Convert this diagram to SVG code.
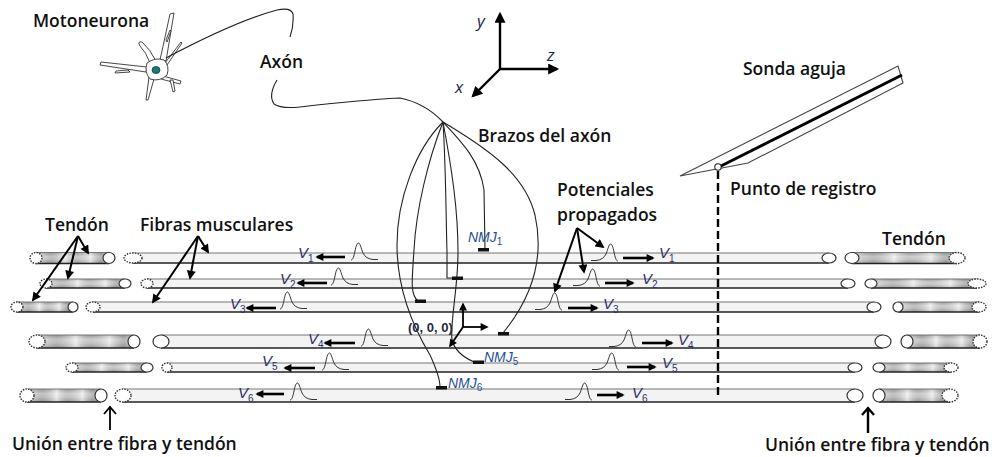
<svg xmlns="http://www.w3.org/2000/svg" xmlns:xlink="http://www.w3.org/1999/xlink" width="994" height="457" viewBox="0 0 994 457">
  <style>
    .lbl { font-family: "Open Sans", "Liberation Sans", sans-serif; font-weight: 600; font-size: 17.5px; fill: #111; }
    .ax { font-family: "Open Sans", "Liberation Sans", sans-serif; font-style: italic; font-size: 17px; fill: #1c2448; }
    .v { font-family: "Liberation Sans", Arial, sans-serif; font-style: italic; font-size: 15px; fill: #2f2f6a; }
    .sub { font-size: 10px; font-style: normal; }
    .nmj { font-family: "Liberation Sans", Arial, sans-serif; font-style: italic; font-size: 14px; fill: #1f4e9a; }
    .org { font-family: "Liberation Sans", Arial, sans-serif; font-weight: bold; font-size: 13px; fill: #1e2a44; }
    .branch { fill: none; stroke: #222; stroke-width: 1.1; }
    .junction { fill: #111; }
    .edgeT { stroke: #777; stroke-width: 1.2; }
    .edgeB { stroke: #222; stroke-width: 1.3; }
    .endS { fill: #fff; stroke: #333; stroke-width: 1.2; }
    .endD { fill: #fff; stroke: #333; stroke-width: 1.4; stroke-dasharray: 1.5 1.2; }
    .pulse { fill: none; stroke: #333; stroke-width: 1; }
    .vel { stroke: #000; stroke-width: 2.6; marker-end: url(#ah); }
    .ptr { stroke: #000; stroke-width: 2; marker-end: url(#ah2); }
    .axis { stroke: #000; stroke-width: 2.4; marker-end: url(#ah3); }
    .dend { fill: #fff; stroke: #333; stroke-width: 0.9; stroke-linejoin: round; }
  </style>
  <defs>
    <marker id="ah" viewBox="0 0 10 10" refX="8" refY="5" markerWidth="9" markerHeight="8" markerUnits="userSpaceOnUse" orient="auto">
      <path d="M0,0 L10,5 L0,10 Z" fill="#000"/>
    </marker>
    <marker id="ah2" viewBox="0 0 10 10" refX="8" refY="5" markerWidth="10" markerHeight="9" markerUnits="userSpaceOnUse" orient="auto">
      <path d="M0,0 L10,5 L0,10 Z" fill="#000"/>
    </marker>
    <marker id="ah3" viewBox="0 0 10 10" refX="8" refY="5" markerWidth="12" markerHeight="11" markerUnits="userSpaceOnUse" orient="auto">
      <path d="M0,0 L10,5 L0,10 Z" fill="#000"/>
    </marker>
    <linearGradient id="tendV" x1="0" y1="0" x2="0" y2="1">
      <stop offset="0" stop-color="#999"/>
      <stop offset="0.35" stop-color="#dcdcdc"/>
      <stop offset="0.6" stop-color="#d2d2d2"/>
      <stop offset="1" stop-color="#969696"/>
    </linearGradient>
    <linearGradient id="tendH" x1="0" y1="0" x2="1" y2="0">
      <stop offset="0" stop-color="#ffffff" stop-opacity="0.5"/>
      <stop offset="0.2" stop-color="#888" stop-opacity="0.3"/>
      <stop offset="0.4" stop-color="#ffffff" stop-opacity="0.6"/>
      <stop offset="0.55" stop-color="#999" stop-opacity="0.25"/>
      <stop offset="0.75" stop-color="#ffffff" stop-opacity="0.55"/>
      <stop offset="0.9" stop-color="#777" stop-opacity="0.35"/>
      <stop offset="1" stop-color="#ffffff" stop-opacity="0.4"/>
    </linearGradient>
    <!-- action potential moving left: steep front on the left, slow tail on the right -->
    <path id="ap" class="pulse" d="M0,0 C2,0 3,-4 4,-9 C5,-14 6,-17 7.5,-17 C9,-17 10,-12 12,-7 C14,-3 17,-1 22,-0.5 L27,-0.5"/>
  </defs>

  <rect width="994" height="457" fill="#fff"/>

  <!-- muscle fibres with their tendons -->
  <g id="fibre1">
    <rect x="36" y="252.5" width="73" height="11" fill="url(#tendV)"/><rect x="36" y="252.5" width="73" height="11" fill="url(#tendH)"/>
    <line class="edgeT" x1="36" y1="252.5" x2="109" y2="252.5"/><line class="edgeB" x1="36" y1="263.5" x2="109" y2="263.5"/>
    <ellipse class="endD" cx="36" cy="258" rx="6" ry="5.5"/><ellipse class="endS" cx="109" cy="258" rx="6" ry="5.5"/>
    <rect x="133" y="253" width="696" height="10" fill="#f3f3f3"/>
    <line class="edgeT" x1="133" y1="253" x2="829" y2="253"/><line class="edgeB" x1="133" y1="263" x2="829" y2="263"/>
    <ellipse class="endD" cx="133" cy="258" rx="9" ry="5"/><ellipse class="endS" cx="829" cy="258" rx="7" ry="5"/>
    <rect x="852" y="252.5" width="105" height="11" fill="url(#tendV)"/><rect x="852" y="252.5" width="105" height="11" fill="url(#tendH)"/>
    <line class="edgeT" x1="852" y1="252.5" x2="957" y2="252.5"/><line class="edgeB" x1="852" y1="263.5" x2="957" y2="263.5"/>
    <ellipse class="endS" cx="852" cy="258" rx="7" ry="5.5"/><ellipse class="endD" cx="957" cy="258" rx="8" ry="5.5"/>
  </g>
  <g id="fibre2">
    <rect x="46" y="279" width="79" height="9" fill="url(#tendV)"/><rect x="46" y="279" width="79" height="9" fill="url(#tendH)"/>
    <line class="edgeT" x1="46" y1="279" x2="125" y2="279"/><line class="edgeB" x1="46" y1="288" x2="125" y2="288"/>
    <ellipse class="endD" cx="46" cy="283.5" rx="6" ry="4.5"/><ellipse class="endS" cx="125" cy="283.5" rx="6" ry="4.5"/>
    <rect x="147" y="279" width="701" height="9" fill="#f3f3f3"/>
    <line class="edgeT" x1="147" y1="279" x2="848" y2="279"/><line class="edgeB" x1="147" y1="288" x2="848" y2="288"/>
    <ellipse class="endD" cx="147" cy="283.5" rx="6" ry="4.5"/><ellipse class="endS" cx="848" cy="283.5" rx="7" ry="4.5"/>
    <rect x="871" y="279" width="106" height="9" fill="url(#tendV)"/><rect x="871" y="279" width="106" height="9" fill="url(#tendH)"/>
    <line class="edgeT" x1="871" y1="279" x2="977" y2="279"/><line class="edgeB" x1="871" y1="288" x2="977" y2="288"/>
    <ellipse class="endS" cx="871" cy="283.5" rx="6" ry="4.5"/><ellipse class="endD" cx="977" cy="283.5" rx="9" ry="4.5"/>
  </g>
  <g id="fibre3">
    <rect x="17" y="302" width="56" height="10" fill="url(#tendV)"/><rect x="17" y="302" width="56" height="10" fill="url(#tendH)"/>
    <line class="edgeT" x1="17" y1="302" x2="73" y2="302"/><line class="edgeB" x1="17" y1="312" x2="73" y2="312"/>
    <ellipse class="endD" cx="17" cy="307" rx="6" ry="5"/><ellipse class="endS" cx="73" cy="307" rx="5" ry="5"/>
    <rect x="93" y="302" width="781" height="10" fill="#f3f3f3"/>
    <line class="edgeT" x1="93" y1="302" x2="874" y2="302"/><line class="edgeB" x1="93" y1="312" x2="874" y2="312"/>
    <ellipse class="endD" cx="93" cy="307" rx="7" ry="5"/><ellipse class="endS" cx="874" cy="307" rx="7" ry="5"/>
    <rect x="898" y="302" width="81" height="10" fill="url(#tendV)"/><rect x="898" y="302" width="81" height="10" fill="url(#tendH)"/>
    <line class="edgeT" x1="898" y1="302" x2="979" y2="302"/><line class="edgeB" x1="898" y1="312" x2="979" y2="312"/>
    <ellipse class="endS" cx="898" cy="307" rx="5" ry="5"/><ellipse class="endD" cx="979" cy="307" rx="7" ry="5"/>
  </g>
  <g id="fibre4">
    <rect x="37" y="335" width="97" height="13" fill="url(#tendV)"/><rect x="37" y="335" width="97" height="13" fill="url(#tendH)"/>
    <line class="edgeT" x1="37" y1="335" x2="134" y2="335"/><line class="edgeB" x1="37" y1="348" x2="134" y2="348"/>
    <ellipse class="endD" cx="37" cy="341.5" rx="8" ry="6.5"/><ellipse class="endS" cx="134" cy="341.5" rx="6" ry="6.5"/>
    <rect x="161" y="335" width="722" height="13" fill="#f3f3f3"/>
    <line class="edgeT" x1="161" y1="335" x2="883" y2="335"/><line class="edgeB" x1="161" y1="348" x2="883" y2="348"/>
    <ellipse class="endS" cx="161" cy="341.5" rx="8" ry="6.5"/><ellipse class="endS" cx="883" cy="341.5" rx="8" ry="6.5"/>
    <rect x="907" y="335" width="73" height="13" fill="url(#tendV)"/><rect x="907" y="335" width="73" height="13" fill="url(#tendH)"/>
    <line class="edgeT" x1="907" y1="335" x2="980" y2="335"/><line class="edgeB" x1="907" y1="348" x2="980" y2="348"/>
    <ellipse class="endS" cx="907" cy="341.5" rx="6" ry="6.5"/><ellipse class="endD" cx="980" cy="341.5" rx="7" ry="6.5"/>
  </g>
  <g id="fibre5">
    <rect x="72" y="363" width="75" height="9" fill="url(#tendV)"/><rect x="72" y="363" width="75" height="9" fill="url(#tendH)"/>
    <line class="edgeT" x1="72" y1="363" x2="147" y2="363"/><line class="edgeB" x1="72" y1="372" x2="147" y2="372"/>
    <ellipse class="endD" cx="72" cy="367.5" rx="6" ry="4.5"/><ellipse class="endS" cx="147" cy="367.5" rx="6" ry="4.5"/>
    <rect x="167" y="363" width="688" height="9" fill="#f3f3f3"/>
    <line class="edgeT" x1="167" y1="363" x2="855" y2="363"/><line class="edgeB" x1="167" y1="372" x2="855" y2="372"/>
    <ellipse class="endD" cx="167" cy="367.5" rx="5" ry="4.5"/><ellipse class="endS" cx="855" cy="367.5" rx="7" ry="4.5"/>
    <rect x="879" y="363" width="72" height="9" fill="url(#tendV)"/><rect x="879" y="363" width="72" height="9" fill="url(#tendH)"/>
    <line class="edgeT" x1="879" y1="363" x2="951" y2="363"/><line class="edgeB" x1="879" y1="372" x2="951" y2="372"/>
    <ellipse class="endS" cx="879" cy="367.5" rx="6" ry="4.5"/><ellipse class="endD" cx="951" cy="367.5" rx="7" ry="4.5"/>
  </g>
  <g id="fibre6">
    <rect x="27" y="389" width="74" height="13" fill="url(#tendV)"/><rect x="27" y="389" width="74" height="13" fill="url(#tendH)"/>
    <line class="edgeT" x1="27" y1="389" x2="101" y2="389"/><line class="edgeB" x1="27" y1="402" x2="101" y2="402"/>
    <ellipse class="endD" cx="27" cy="395.5" rx="7" ry="6.5"/><ellipse class="endS" cx="101" cy="395.5" rx="6" ry="6.5"/>
    <rect x="123" y="389" width="732" height="13" fill="#f3f3f3"/>
    <line class="edgeT" x1="123" y1="389" x2="855" y2="389"/><line class="edgeB" x1="123" y1="402" x2="855" y2="402"/>
    <ellipse class="endD" cx="123" cy="395.5" rx="8" ry="6.5"/><ellipse class="endS" cx="855" cy="395.5" rx="8" ry="6.5"/>
    <rect x="879" y="389" width="71" height="13" fill="url(#tendV)"/><rect x="879" y="389" width="71" height="13" fill="url(#tendH)"/>
    <line class="edgeT" x1="879" y1="389" x2="950" y2="389"/><line class="edgeB" x1="879" y1="402" x2="950" y2="402"/>
    <ellipse class="endS" cx="879" cy="395.5" rx="6" ry="6.5"/><ellipse class="endD" cx="950" cy="395.5" rx="8" ry="6.5"/>
  </g>

  <!-- motoneuron cell body with dendrites -->
  <g id="motoneuron">
    <path class="dend" d="M160,60 L170,14 L174,13 L166,61 Z"/>
    <path class="dend" d="M166,40 L170,30 L171,31 L167,42 Z"/>
    <path class="dend" d="M150,63 Q146,52 140,46 Q137,41 142,42 Q150,49 156,61 Z"/>
    <path class="dend" d="M165,63 L181,42 L182,43 L167,65 Z"/>
    <path class="dend" d="M147,67 L101,62 L100,65 L146,72 Z"/>
    <path class="dend" d="M128,70 L116,71 L115,73 L130,72 Z"/>
    <path class="dend" d="M149,77 L146,100 L148,100 L154,79 Z"/>
    <path class="dend" d="M163,76 L181,81 L180,84 L161,79 Z"/>
    <path class="dend" d="M170,80 L173,92 L175,91 L173,80 Z"/>
    <path class="dend" d="M147,63 Q155,57 164,60 Q170,66 167,75 Q160,82 150,79 Q144,72 147,63 Z"/>
    <ellipse cx="156" cy="70" rx="4" ry="3.5" fill="#137d74" stroke="#0c3c38" stroke-width="0.8"/>
  </g>

  <!-- axon and its branches to the neuromuscular junctions -->
  <g id="axon">
    <path class="branch" d="M166,58 C200,40 240,20 277,10 Q291,7 293,14 Q294,25 290,37"/>
    <path class="branch" d="M277,80 Q268,95 274,104 Q281,109 300,107 Q360,100 400,98 Q425,103 443,122"/>
    <path class="branch" d="M443,122 C415,150 397,200 397,245 C397,290 415,330 430,355 C436,368 440,380 440,387"/>
    <path class="branch" d="M443,122 C428,160 416,210 414,250 C412,280 410,295 418,301"/>
    <path class="branch" d="M443,122 C446,170 446,220 447,252 L447,278 L453,278"/>
    <path class="branch" d="M443,122 C452,170 458,210 458,252 C458,290 450,320 452,340 C455,352 465,358 474,362"/>
    <path class="branch" d="M443,122 C460,140 480,160 484,190 L485,249"/>
    <path class="branch" d="M443,122 C490,150 525,175 535,215 C545,260 530,300 503,333"/>
  </g>
  <g id="junctions">
    <rect class="junction" x="478" y="248" width="11" height="3.5"/>
    <rect class="junction" x="452" y="276.5" width="11" height="3.5"/>
    <rect class="junction" x="415" y="299.5" width="11" height="3.5"/>
    <rect class="junction" x="498" y="332" width="11" height="3.5"/>
    <rect class="junction" x="473" y="360.5" width="11" height="3.5"/>
    <rect class="junction" x="436" y="386" width="11" height="3.5"/>
    <text class="nmj" x="468" y="242">NMJ<tspan class="sub" dy="3">1</tspan></text>
    <text class="nmj" x="484" y="362" font-size="13">NMJ<tspan class="sub" dy="3" font-size="8">5</tspan></text>
    <text class="nmj" x="448" y="388" font-size="13">NMJ<tspan class="sub" dy="3" font-size="8">6</tspan></text>
  </g>

  <!-- propagating action potentials and conduction velocities -->
  <g id="potentials">
    <use xlink:href="#ap" transform="translate(351,260)"/>
    <use xlink:href="#ap" transform="translate(331,285)"/>
    <use xlink:href="#ap" transform="translate(280,309)"/>
    <use xlink:href="#ap" transform="translate(361,346)"/>
    <use xlink:href="#ap" transform="translate(322,370)"/>
    <use xlink:href="#ap" transform="translate(290,400)"/>
    <use xlink:href="#ap" transform="translate(618,261) scale(-1,1)"/>
    <use xlink:href="#ap" transform="translate(600,286) scale(-1,1)"/>
    <use xlink:href="#ap" transform="translate(562,310) scale(-1,1)"/>
    <use xlink:href="#ap" transform="translate(636,347) scale(-1,1)"/>
    <use xlink:href="#ap" transform="translate(619,370) scale(-1,1)"/>
    <use xlink:href="#ap" transform="translate(592,400) scale(-1,1)"/>
  </g>
  <g id="connectors">
    <line class="vel" x1="345" y1="257" x2="317" y2="257"/>
    <line class="vel" x1="327" y1="283" x2="298" y2="283"/>
    <line class="vel" x1="276" y1="308" x2="247" y2="308"/>
    <line class="vel" x1="355" y1="343" x2="325" y2="343"/>
    <line class="vel" x1="315" y1="368" x2="285" y2="368"/>
    <line class="vel" x1="284" y1="394" x2="257" y2="394"/>
    <line class="vel" x1="623" y1="258" x2="653" y2="258"/>
    <line class="vel" x1="605" y1="283" x2="633" y2="283"/>
    <line class="vel" x1="568" y1="308" x2="597" y2="308"/>
    <line class="vel" x1="642" y1="343" x2="672" y2="343"/>
    <line class="vel" x1="627" y1="367" x2="655" y2="367"/>
    <line class="vel" x1="597" y1="395" x2="623" y2="395"/>
    <!-- label pointers -->
    <line class="ptr" x1="78" y1="236" x2="88" y2="253"/>
    <line class="ptr" x1="78" y1="236" x2="68" y2="278"/>
    <line class="ptr" x1="78" y1="236" x2="33" y2="300"/>
    <line class="ptr" x1="198" y1="236" x2="208" y2="252"/>
    <line class="ptr" x1="198" y1="236" x2="190" y2="278"/>
    <line class="ptr" x1="198" y1="236" x2="153" y2="302"/>
    <line class="ptr" x1="577" y1="228" x2="603" y2="247"/>
    <line class="ptr" x1="577" y1="228" x2="584" y2="272"/>
    <line class="ptr" x1="577" y1="228" x2="555" y2="291"/>
    <!-- junction markers -->
    <path d="M110,430 L110,407 M104,414 L110,407 L116,414" fill="none" stroke="#000" stroke-width="1.8"/>
    <path d="M868,433 L868,408 M862,415 L868,408 L874,415" fill="none" stroke="#000" stroke-width="2.4"/>
    <!-- recording line -->
    <line x1="718" y1="171" x2="718" y2="399" stroke="#000" stroke-width="2.4" stroke-dasharray="8 4"/>
  </g>

  <g id="velocity-labels">
    <text class="v" x="298" y="258">V<tspan class="sub" dy="4">1</tspan></text>
    <text class="v" x="280" y="284">V<tspan class="sub" dy="4">2</tspan></text>
    <text class="v" x="230" y="309">V<tspan class="sub" dy="4">3</tspan></text>
    <text class="v" x="308" y="344">V<tspan class="sub" dy="4">4</tspan></text>
    <text class="v" x="262" y="366">V<tspan class="sub" dy="4">5</tspan></text>
    <text class="v" x="238" y="398">V<tspan class="sub" dy="4">6</tspan></text>
    <text class="v" x="659" y="258">V<tspan class="sub" dy="4">1</tspan></text>
    <text class="v" x="642" y="284">V<tspan class="sub" dy="4">2</tspan></text>
    <text class="v" x="603" y="309">V<tspan class="sub" dy="4">3</tspan></text>
    <text class="v" x="678" y="345">V<tspan class="sub" dy="4">4</tspan></text>
    <text class="v" x="662" y="368">V<tspan class="sub" dy="4">5</tspan></text>
    <text class="v" x="632" y="398">V<tspan class="sub" dy="4">6</tspan></text>
  </g>

  <!-- coordinate frames -->
  <g id="axes">
    <line class="axis" x1="500" y1="69" x2="500" y2="14"/>
    <line class="axis" x1="499" y1="69" x2="557" y2="69"/>
    <line class="axis" x1="500" y1="69" x2="473" y2="96"/>
    <text class="ax" x="477" y="27">y</text>
    <text class="ax" x="547" y="61">z</text>
    <text class="ax" x="455" y="93">x</text>
  </g>
  <g id="origin">
    <line x1="463" y1="327" x2="463" y2="304" stroke="#000" stroke-width="1.8" marker-end="url(#ah)"/>
    <line x1="462" y1="327" x2="487" y2="327" stroke="#000" stroke-width="1.8" marker-end="url(#ah)"/>
    <line x1="463" y1="327" x2="450" y2="346" stroke="#000" stroke-width="1.8" marker-end="url(#ah)"/>
    <text class="org" x="408" y="332">(0, 0, 0)</text>
  </g>

  <!-- needle electrode -->
  <g id="needle">
    <path d="M680,176 L898,66 L903,83 L748,163 L680,176 Z" fill="#fff" stroke="#444" stroke-width="1.1"/>
    <line x1="719" y1="167" x2="902" y2="75" stroke="#000" stroke-width="3"/>
    <circle cx="718" cy="167" r="3.2" fill="#fff" stroke="#222" stroke-width="1.1"/>
  </g>

  <g id="labels">
    <text class="lbl" x="33" y="27">Motoneurona</text>
    <text class="lbl" x="260" y="68">Axón</text>
    <text class="lbl" x="478" y="142">Brazos del axón</text>
    <text class="lbl" x="743" y="75">Sonda aguja</text>
    <text class="lbl" x="730" y="195">Punto de registro</text>
    <text class="lbl" x="557" y="196">Potenciales</text>
    <text class="lbl" x="557" y="221">propagados</text>
    <text class="lbl" x="45" y="231">Tendón</text>
    <text class="lbl" x="140" y="231">Fibras musculares</text>
    <text class="lbl" x="882" y="245">Tendón</text>
    <text class="lbl" x="12" y="450">Unión entre fibra y tendón</text>
    <text class="lbl" x="765" y="451">Unión entre fibra y tendón</text>
  </g>
</svg>
